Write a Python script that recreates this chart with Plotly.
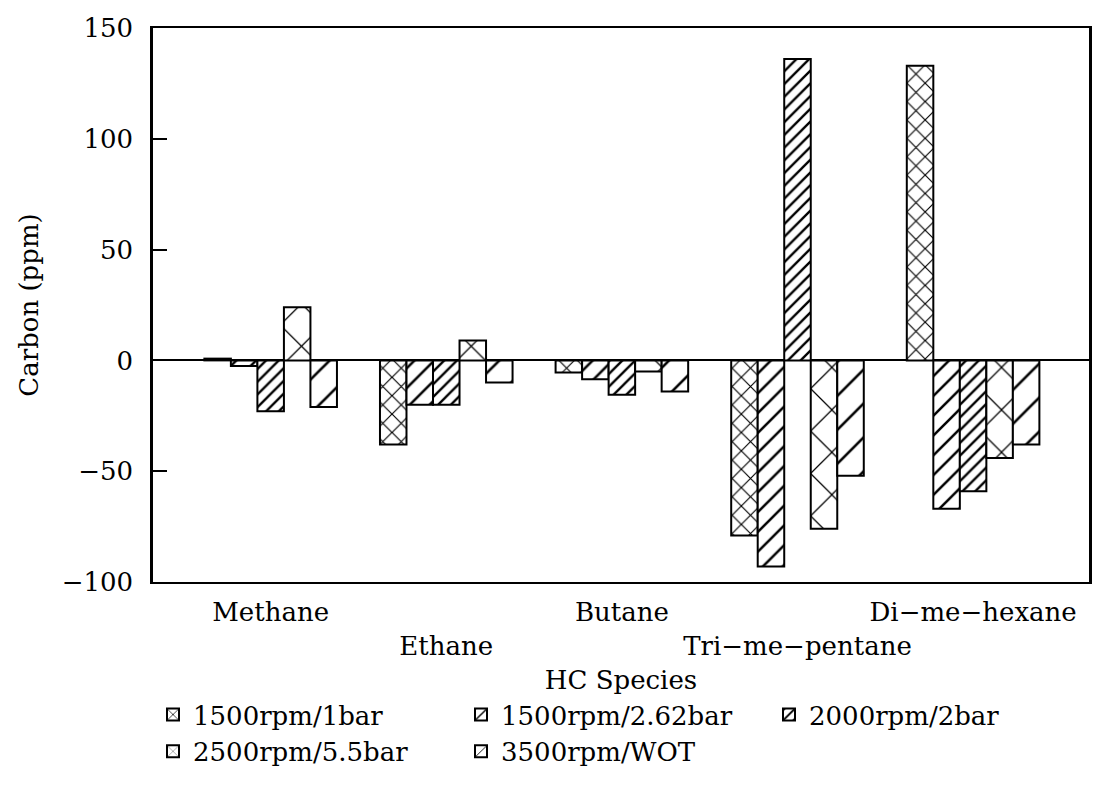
import plotly.graph_objects as go

species = ["Methane", "Ethane", "Butane", "Tri−me−pentane", "Di−me−hexane"]
tick_text = ["Methane", "<br>Ethane", "Butane", "<br>Tri−me−pentane", "Di−me−hexane"]

s_1500_1bar = [0.8, -38, -5.5, -79, 133]
s_1500_262bar = [-2.5, -20, -8.5, -93, -67]
s_2000_2bar = [-23, -20, -15.5, 136, -59]
s_2500_55bar = [24, 9, -5, -76, -44]
s_3500_wot = [-21, -10, -14, -52, -38]

series_names = ["1500rpm/1bar", "1500rpm/2.62bar", "2000rpm/2bar", "2500rpm/5.5bar", "3500rpm/WOT"]
series_values = [s_1500_1bar, s_1500_262bar, s_2000_2bar, s_2500_55bar, s_3500_wot]
patterns = [("x", 13, 0.17), ("/", 14, 0.18), ("/", 9, 0.26), ("x", 30, 0.08), ("/", 24, 0.11)]

FONT = "DejaVu Serif"
FS = 26

fig = go.Figure()
for name, vals, (shape, size, sol) in zip(series_names, series_values, patterns):
    fig.add_trace(go.Bar(
        x=list(range(len(species))), y=vals, name=name,
        marker=dict(color="white", line=dict(color="black", width=2),
                    pattern=dict(shape=shape, size=size, solidity=sol,
                                 fgcolor="black", bgcolor="white", fgopacity=1,
                                 fillmode="overlay")),
    ))

fig.update_layout(
    width=1094, height=805,
    margin=dict(l=153, r=2, t=28, b=223),
    paper_bgcolor="white", plot_bgcolor="white",
    font=dict(family=FONT, size=FS, color="black"),
    barmode="group", bargap=0.245, bargroupgap=0,
    xaxis=dict(
        tickmode="array", tickvals=list(range(len(species))), ticktext=tick_text,
        tickangle=0, ticklabelstandoff=6,
        range=[-0.67, 4.66], showgrid=False, ticks="", zeroline=False,
        showline=True, linecolor="black", linewidth=2, mirror=True,
        title=dict(text="HC Species", standoff=11, font=dict(size=FS)),
        tickfont=dict(size=FS),
    ),
    yaxis=dict(
        range=[-100, 150], tickvals=[-100, -50, 0, 50, 100, 150],
        ticktext=["−100", "−50", "0", "50", "100", "150"],
        ticks="inside", ticklen=14, tickwidth=1.5, tickcolor="black",
        ticklabelstandoff=12,
        showgrid=False, zeroline=True, zerolinecolor="black", zerolinewidth=1.5,
        showline=True, linecolor="black", linewidth=2.5, mirror=True,
        title=dict(text="Carbon (ppm)", standoff=16, font=dict(size=FS)),
        tickfont=dict(size=FS),
    ),
    legend=dict(
        orientation="h", x=0.0, xanchor="left", y=-0.197, yanchor="top",
        font=dict(size=FS), entrywidth=263, entrywidthmode="pixels",
        traceorder="normal", bgcolor="rgba(0,0,0,0)",
    ),
)

fig.write_html("out.html", config={"displayModeBar": False},
               post_script="document.body.style.margin='0';")
